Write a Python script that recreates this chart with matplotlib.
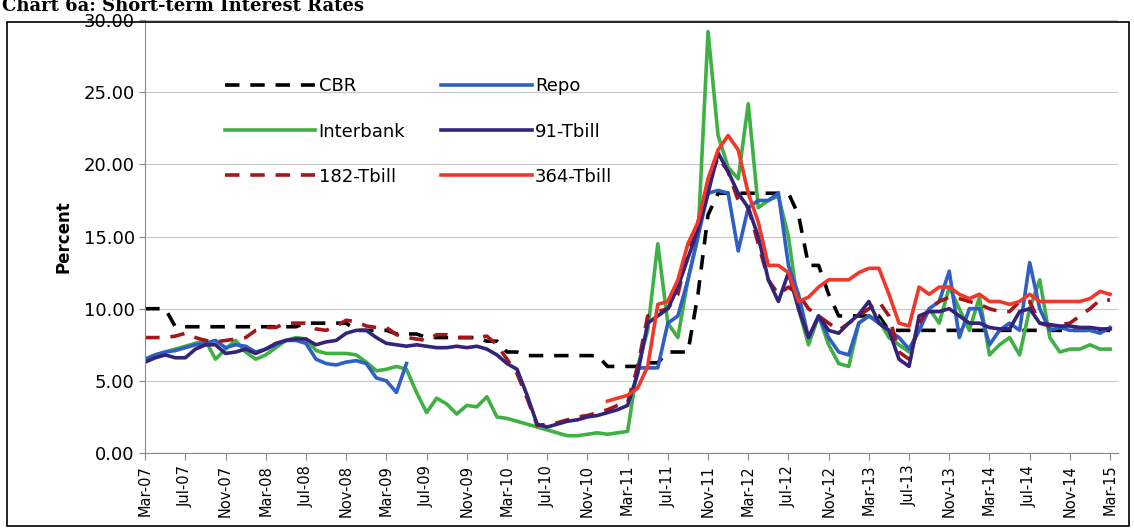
import numpy as np
import matplotlib
matplotlib.use("Agg")
import matplotlib.pyplot as plt
from matplotlib.patches import Rectangle

nan = np.nan

# monthly, Mar-07 .. Mar-15 (97 points)
cbr = ([10.0] * 3 + [8.75] * 13 + [9.0] * 5 + [8.5] * 4 + [8.25] * 3 + [8.0] * 6
       + [7.75] * 2 + [7.0] * 2 + [6.75] * 8 + [6.0] * 4
       + [6.25] * 2 + [7.0] * 3 + [11.0, 16.5] + [18.0] * 8 + [16.5, 13.0, 13.0, 11.0]
       + [9.5] * 5 + [8.5] * 23)
interbank = [6.5, 6.8, 7.0, 7.2, 7.4, 7.6, 7.8, 6.5, 7.2, 7.8, 7.0, 6.5,
             6.8, 7.3, 7.8, 8.0, 7.9, 7.1, 6.9, 6.9, 6.9, 6.8, 6.3, 5.7,
             5.8, 6.0, 5.8, 4.2, 2.8, 3.8, 3.4, 2.7, 3.3, 3.2, 3.9, 2.5,
             2.4, 2.2, 2.0, 1.8, 1.6, 1.4, 1.2, 1.2, 1.3, 1.4, 1.3, 1.4,
             1.5, 6.0, 8.5, 14.5, 9.0, 8.0, 12.0, 15.0, 29.2, 22.0, 19.8, 19.0,
             24.2, 17.0, 17.5, 17.8, 15.0, 10.0, 7.5, 9.5, 7.5, 6.2, 6.0, 9.0,
             9.5, 9.2, 8.0, 7.5, 7.0, 8.5, 10.0, 9.0, 11.5, 10.0, 8.5, 10.8,
             6.8, 7.5, 8.0, 6.8, 10.0, 12.0, 8.0, 7.0, 7.2, 7.2, 7.5, 7.2, 7.2]
repo = [6.5, 6.8, 7.0, 7.1, 7.3, 7.5, 7.6, 7.8, 7.3, 7.5, 7.4, 7.0,
        7.2, 7.5, 7.8, 7.8, 7.6, 6.5, 6.2, 6.1, 6.3, 6.4, 6.2, 5.2,
        5.0, 4.2, 6.2] + [nan] * 22 + [
        5.9, 5.9, 5.9, 9.0, 9.5, 12.0, 15.0, 18.0, 18.2, 18.0, 14.0,
        17.0, 17.5, 17.5, 18.0, 13.0, 11.0, 8.0, 9.5, 8.0, 7.0, 6.8, 9.0,
        9.5, 9.0, 8.5, 8.0, 7.2, 8.5, 10.0, 10.5, 12.6, 8.0, 10.0, 10.0,
        7.5, 8.5, 9.0, 8.5, 13.2, 10.0, 8.5, 8.7, 8.5, 8.5, 8.5, 8.3, 8.7]
tbill91 = [6.3, 6.6, 6.8, 6.6, 6.6, 7.2, 7.5, 7.5, 6.9, 7.0, 7.2, 6.9,
           7.2, 7.6, 7.8, 7.9, 7.9, 7.5, 7.7, 7.8, 8.3, 8.5, 8.5, 8.0,
           7.6, 7.5, 7.4, 7.5, 7.4, 7.3, 7.3, 7.4, 7.3, 7.4, 7.2, 6.8,
           6.2, 5.8, 4.0, 2.0, 1.8, 2.0, 2.2, 2.3, 2.5, 2.6, 2.8, 3.0,
           3.3, 5.5, 9.0, 9.5, 10.0, 11.5, 13.5, 15.5, 18.0, 20.8, 19.5, 18.0,
           17.0, 15.0, 12.0, 10.5, 12.5, 10.0, 8.0, 9.5, 8.5, 8.3, 9.0, 9.6,
           10.5, 9.0, 8.5, 6.5, 6.0, 9.5, 9.8, 9.8, 10.0, 9.5, 9.0, 9.0,
           8.7, 8.6, 8.6, 9.8, 10.0, 9.0, 8.9, 8.8, 8.8, 8.7, 8.7, 8.6, 8.6]
tbill182 = [8.0, 8.0, 8.0, 8.1, 8.3, 8.0, 7.8, 7.7, 7.8, 7.9, 8.0, 8.5,
            8.7, 8.7, 9.0, 9.0, 9.0, 8.6, 8.5, 8.8, 9.2, 9.1, 8.8, 8.7,
            8.7, 8.2, 8.0, 7.9, 7.8, 8.2, 8.2, 8.0, 8.0, 8.0, 8.1, 7.5,
            6.5, 5.5, 3.8, 1.9, 2.0, 2.1, 2.3, 2.5, 2.6, 2.8, 3.0, 3.3,
            3.5, 6.0, 9.5, 9.8, 10.0, 11.0, 14.0, 16.0, 18.5, 20.5, 19.5, 17.5,
            17.0, 14.5, 12.0, 11.0, 11.5, 11.0, 10.0, 9.5, 9.0, 8.5, 9.0, 9.5,
            10.0, 10.5, 9.5, 7.0, 6.5, 9.0, 10.0, 10.5, 10.8, 10.7, 10.5, 10.3,
            10.0, 9.8, 9.8, 10.5, 10.5, 9.0, 8.8, 8.9, 9.0, 9.5, 10.0, 10.6, 10.6]
tbill364 = [nan] * 46 + [
            3.6, 3.8, 4.0, 4.5, 6.0, 10.3, 10.5, 12.0, 14.5, 16.0, 19.0, 21.0, 22.0, 21.0,
            18.0, 16.0, 13.0, 13.0, 12.5, 10.5, 10.8, 11.5, 12.0, 12.0, 12.0, 12.5,
            12.8, 12.8, 11.0, 9.0, 8.8, 11.5, 11.0, 11.5, 11.5, 11.0, 10.7, 11.0,
            10.5, 10.5, 10.3, 10.5, 11.0, 10.5, 10.5, 10.5, 10.5, 10.5, 10.7, 11.2, 11.0]

tick_labels = ["Mar-07", "Jul-07", "Nov-07", "Mar-08", "Jul-08", "Nov-08", "Mar-09",
               "Jul-09", "Nov-09", "Mar-10", "Jul-10", "Nov-10", "Mar-11", "Jul-11",
               "Nov-11", "Mar-12", "Jul-12", "Nov-12", "Mar-13", "Jul-13", "Nov-13",
               "Mar-14", "Jul-14", "Nov-14", "Mar-15"]

x = np.arange(97)
fig = plt.figure(figsize=(11.34, 5.28), dpi=100)
fig.patches.append(Rectangle((0.006, 0.004), 0.99, 0.955, transform=fig.transFigure,
                             fill=False, lw=1.2, ec="black"))
fig.text(0.002, 0.988, "Chart 6a: Short-term Interest Rates", family="DejaVu Serif",
         fontweight="bold", fontsize=13, va="center", ha="left")

ax = fig.add_axes([0.128, 0.142, 0.858, 0.82])
lw = 2.6
h_cbr, = ax.plot(x, cbr, color="black", ls=(0, (4, 3)), lw=lw, label="CBR")
h_ib, = ax.plot(x, interbank, color="#3fb043", lw=lw, label="Interbank")
h_repo, = ax.plot(x, repo, color="#2f5fc4", lw=lw, label="Repo")
h_182, = ax.plot(x, tbill182, color="#a3161b", ls=(0, (4, 3)), lw=lw, label="182-Tbill")
h_91, = ax.plot(x, tbill91, color="#35237a", lw=lw, label="91-Tbill")
h_364, = ax.plot(x, tbill364, color="#f0382a", lw=lw, label="364-Tbill")

ax.set_ylim(0, 30)
ax.set_xlim(0, 96.8)
ax.set_yticks(np.arange(0, 31, 5))
ax.set_yticklabels([f"{v:.2f}" for v in np.arange(0, 31, 5)], fontsize=13)
ax.set_xticks(np.arange(0, 97, 4))
ax.set_xticklabels(tick_labels, rotation=90, fontsize=10.5)
ax.grid(axis="y", color="#c8c8c8", lw=0.8)
ax.set_axisbelow(True)
for s in ["top", "right"]:
    ax.spines[s].set_visible(False)
ax.spines["left"].set_color("#888888")
ax.spines["bottom"].set_color("#888888")
ax.tick_params(axis="x", length=5, color="#888888")
ax.tick_params(axis="y", length=4, color="#888888")
ax.set_ylabel("Percent", fontweight="bold", fontsize=12, labelpad=8)

ax.legend([h_cbr, h_ib, h_182, h_repo, h_91, h_364],
          ["CBR", "Interbank", "182-Tbill", "Repo", "91-Tbill", "364-Tbill"],
          ncol=2, frameon=False, fontsize=13, loc="upper left",
          bbox_to_anchor=(0.065, 0.905), handlelength=5.0, handletextpad=0.2,
          columnspacing=2.0, labelspacing=1.5)

fig.savefig("out.png", dpi=100)
